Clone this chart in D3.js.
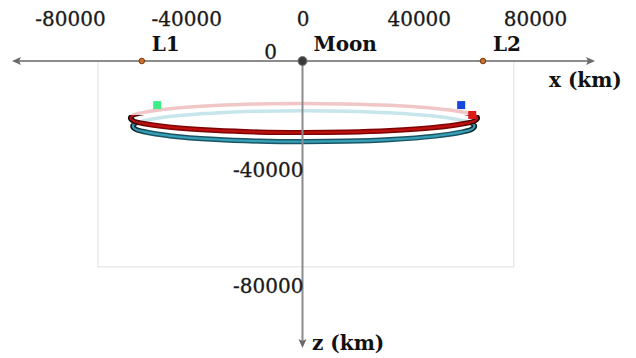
<!DOCTYPE html>
<html><head><meta charset="utf-8">
<script src="https://cdn.jsdelivr.net/npm/d3@7/dist/d3.min.js"></script>
<style>
html,body{margin:0;padding:0;background:#fff;}
svg{display:block;}
</style></head>
<body>
<svg id="chart" width="636" height="358"></svg>
<script>
// ---- data (km) ----
const xTicks = [-80000, -40000, 0, 40000, 80000];
const zTicks = [-40000, -80000];
const pointNames = ["L1", "Moon", "L2"];
const pointX = [-55300, 0, 62100];

// red orbit
const redX      = [-59200, -58200, -55000, -45000, -30000, -15000, 0, 15000, 30000, 45000, 55000, 59200, 60200];
const redBack   = [-19650, -18650, -17800, -16400, -15350, -14800, -14650, -14800, -15300, -16300, -17600, -18600, -19650];
const redFront  = [-19650, -20650, -21500, -22900, -23950, -24500, -24650, -24500, -24000, -23000, -21700, -20700, -19650];
// cyan orbit
const cyanX     = [-58400, -57400, -55000, -45000, -30000, -15000, 0, 15000, 30000, 45000, 55000, 58200, 59200];
const cyanBack  = [-22480, -21400, -20690, -19080, -17910, -17330, -17150, -17310, -17870, -19000, -20500, -21400, -22480];
const cyanFront = [-22480, -23560, -24270, -25880, -27050, -27630, -27810, -27650, -27090, -25960, -24460, -23560, -22480];

// markers (squares)
const squareNames = ["green", "blue", "red"];
const squareX = [-50000, 54600, 58400];
const squareZ = [-15200, -15200, -18600];

// frame box
const boxX = [-70400, 72700];
const boxZ = [0, -71000];

// ---- scales ----
const svg = d3.select("#chart");
const x = d3.scaleLinear().domain([-80000, 80000]).range([70, 535]);
const z = d3.scaleLinear().domain([0, -80000]).range([61, 293]);

const serif = "'DejaVu Serif', serif";

// frame
svg.append("rect")
  .attr("x", x(boxX[0])).attr("y", z(boxZ[0]))
  .attr("width", x(boxX[1]) - x(boxX[0])).attr("height", z(boxZ[1]) - z(boxZ[0]))
  .attr("fill", "none").attr("stroke", "#e4e4e4").attr("stroke-width", 1.2);

const defs = svg.append("defs");
function grad(id, mid) {
  const g = defs.append("linearGradient").attr("id", id)
    .attr("gradientUnits", "userSpaceOnUse")
    .attr("x1", x(-60500)).attr("x2", x(61500)).attr("y1", 0).attr("y2", 0);
  g.append("stop").attr("offset", 0).attr("stop-color", "#0a0a0a");
  g.append("stop").attr("offset", 0.06).attr("stop-color", mid);
  g.append("stop").attr("offset", 0.94).attr("stop-color", mid);
  g.append("stop").attr("offset", 1).attr("stop-color", "#0a0a0a");
}
grad("redEdge", "#7e0303");
grad("cyanEdge", "#1b5563");

function loopPts(xs, back, front) {
  const pts = xs.map((v, i) => [v, back[i]]);
  for (let i = xs.length - 2; i >= 1; i--) pts.push([xs[i], front[i]]);
  return pts;
}
const loopLine = d3.line().x(d => x(d[0])).y(d => z(d[1])).curve(d3.curveCatmullRomClosed.alpha(0.5));

const orbits = [
  {id: "red", xs: redX, back: redBack, front: redFront, light: "#f1c6c6", edge: "url(#redEdge)", mid: "#c51212"},
  {id: "cyan", xs: cyanX, back: cyanBack, front: cyanFront, light: "#c6e6ec", edge: "url(#cyanEdge)", mid: "#3aa8c2"}
];
orbits.forEach(o => {
  defs.append("clipPath").attr("id", "clip-" + o.id)
    .append("rect").attr("x", 0).attr("y", z(o.back[0]) - 3).attr("width", 636).attr("height", 100);
});
// back loops
orbits.forEach(o => {
  svg.append("path").attr("d", loopLine(loopPts(o.xs, o.back, o.front)))
    .attr("fill", "none").attr("stroke", o.light).attr("stroke-width", 3.5);
});
// front halves (cyan first, then red)
[orbits[1], orbits[0]].forEach(o => {
  const d = loopLine(loopPts(o.xs, o.back, o.front));
  const g = svg.append("g").attr("clip-path", `url(#clip-${o.id})`);
  g.append("path").attr("d", d).attr("fill", "none")
    .attr("stroke", o.edge).attr("stroke-width", 5.2);
  g.append("path").attr("d", d).attr("fill", "none")
    .attr("stroke", o.mid).attr("stroke-width", 2.2).attr("stroke-opacity", 0.9);
});

// squares
const sqColors = ["#3ded86", "#1646dc", "#dd1a1a"];
svg.selectAll("rect.sq").data(squareNames).join("rect").attr("class", "sq")
  .attr("x", (d, i) => x(squareX[i]) - 4).attr("y", (d, i) => z(squareZ[i]) - 4)
  .attr("width", 8).attr("height", 8)
  .attr("fill", (d, i) => sqColors[i]);

// axes lines
const axisCol = "#8c8c8c";
svg.append("line").attr("x1", 16).attr("x2", 590).attr("y1", z(0)).attr("y2", z(0))
  .attr("stroke", axisCol).attr("stroke-width", 2);
svg.append("line").attr("x1", x(0)).attr("x2", x(0)).attr("y1", z(0)).attr("y2", 342)
  .attr("stroke", axisCol).attr("stroke-width", 2);
const ah = "#6a6a6a";
svg.append("path").attr("d", `M12,${z(0)} L21,${z(0) - 4} L19,${z(0)} L21,${z(0) + 4} Z`).attr("fill", ah);
svg.append("path").attr("d", `M595,${z(0)} L586,${z(0) - 4} L588,${z(0)} L586,${z(0) + 4} Z`).attr("fill", ah);
svg.append("path").attr("d", `M${x(0)},348 L${x(0) - 4},339 L${x(0)},341 L${x(0) + 4},339 Z`).attr("fill", ah);

const fmt = d => String(d);
const textCol = "#1a1a1a";

// x tick labels (top)
const xAxis = svg.append("g").attr("transform", "translate(0,29)")
  .call(d3.axisTop(x).tickValues(xTicks).tickSize(0).tickPadding(3).tickFormat(fmt));
xAxis.select(".domain").remove();
xAxis.selectAll("text").attr("font-family", serif).attr("font-size", 20)
  .attr("fill", textCol).attr("stroke", textCol).attr("stroke-width", 0.3);

// z tick labels
const zAxis = svg.append("g").attr("transform", `translate(${x(0) + 1},0)`)
  .call(d3.axisLeft(z).tickValues(zTicks).tickSize(0).tickPadding(0).tickFormat(fmt));
zAxis.select(".domain").remove();
zAxis.selectAll("text").attr("dy", "-0.05em")
  .attr("font-family", serif).attr("font-size", 20)
  .attr("fill", textCol).attr("stroke", textCol).attr("stroke-width", 0.3);

// origin label
svg.append("text").attr("x", x(0) - 32).attr("y", z(0) - 2)
  .attr("text-anchor", "middle").attr("font-family", serif).attr("font-size", 20)
  .attr("fill", textCol).attr("stroke", textCol).attr("stroke-width", 0.3)
  .text("0");

// points
svg.selectAll("circle.pt").data(pointNames).join("circle").attr("class", "pt")
  .attr("cx", (d, i) => x(pointX[i])).attr("cy", z(0))
  .attr("r", d => d === "Moon" ? 4.5 : 2.8)
  .attr("fill", d => d === "Moon" ? "#3a3a3a" : "#c8702c")
  .attr("stroke", d => d === "Moon" ? "#777" : "#7a3a10").attr("stroke-width", 1);
svg.selectAll("text.pt").data(pointNames).join("text").attr("class", "pt")
  .attr("x", (d, i) => x(pointX[i]) + (d === "Moon" ? 11 : 10)).attr("y", 51)
  .attr("font-family", serif).attr("font-size", 20).attr("font-weight", "bold").attr("fill", "#111")
  .text(d => d);

// axis titles
svg.append("text").attr("x", 549).attr("y", 87)
  .attr("font-family", serif).attr("font-size", 20).attr("font-weight", "bold").attr("fill", "#111")
  .text("x (km)");
svg.append("text").attr("x", 312).attr("y", 350)
  .attr("font-family", serif).attr("font-size", 20).attr("font-weight", "bold").attr("fill", "#111")
  .text("z (km)");
</script>
</body></html>
